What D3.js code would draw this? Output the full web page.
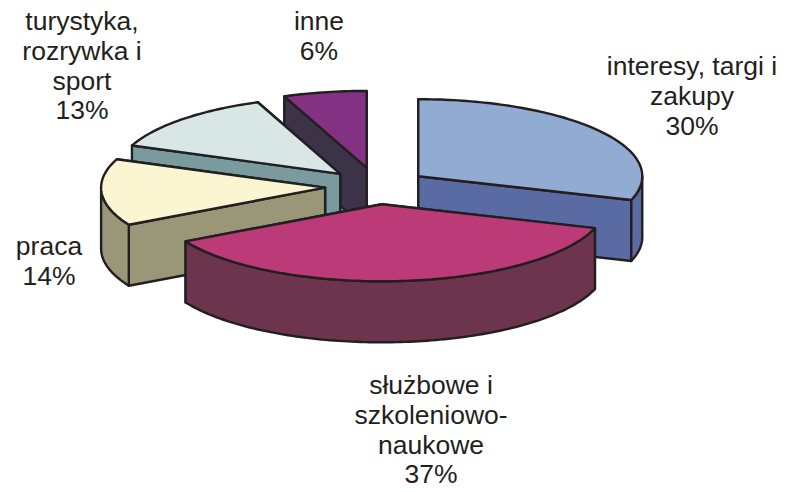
<!DOCTYPE html>
<html>
<head>
<meta charset="utf-8">
<script src="https://cdn.jsdelivr.net/npm/d3@7/dist/d3.min.js"></script>
<style>html,body{margin:0;padding:0;background:#fff}svg{display:block}</style>
</head>
<body>
<svg id="chart" width="785" height="492"></svg>
<script>
const categories = ["interesy, targi i zakupy", "służbowe i szkoleniowo-naukowe", "praca", "turystyka, rozrywka i sport", "inne"];
const shares = [30, 37, 14, 13, 6];
const labelLines = [
  ["interesy, targi i", "zakupy", "30%"],
  ["służbowe i", "szkoleniowo-", "naukowe", "37%"],
  ["praca", "14%"],
  ["turystyka,", "rozrywka i", "sport", "13%"],
  ["inne", "6%"]
];
const explosion = [51, 52, 52, 52, 55];
const topColors = ["#92ABD2", "#BC3A77", "#FBF5D2", "#D9E6E6", "#833182"];
const sideColors = ["#5A6AA3", "#6C344D", "#9A9678", "#799B9E", "#3D3349"];
const labelAnchors = [[692, 75], [431, 394], [49, 255], [82, 30], [319, 30]];
const drawOrder = [4, 3, 2, 0, 1];

const cx = 377, cy = 186.5, rx = 224, ry = 77, depth = 61, tilt = ry / rx;
const ink = "#231f20";
const svg = d3.select("#chart");
const arcs = d3.pie().sort(null).value(d => d)(shares);
const line = d3.line().curve(d3.curveLinear);

function sliceOrigin(i) {
  const mid = (arcs[i].startAngle + arcs[i].endAngle) / 2;
  return [cx + explosion[i] * Math.sin(mid), cy - explosion[i] * tilt * Math.cos(mid)];
}
function rimPoint(o, a) { return [o[0] + rx * Math.sin(a), o[1] - ry * Math.cos(a)]; }
function rimPoints(o, a0, a1) {
  const n = Math.max(2, Math.ceil((a1 - a0) / 0.02));
  return d3.range(n + 1).map(k => rimPoint(o, a0 + (a1 - a0) * k / n));
}
const drop = p => [p[0], p[1] + depth];

const chart = svg.append("g").attr("stroke", ink).attr("stroke-width", 2.4).attr("stroke-linejoin", "round");

drawOrder.forEach(i => {
  const d = arcs[i], o = sliceOrigin(i);
  const g = chart.append("g").attr("class", "slice").attr("data-name", categories[i]);
  const faces = [d.startAngle, d.endAngle]
    .map(a => ({ p: rimPoint(o, a) }))
    .sort((u, v) => u.p[1] - v.p[1]);
  faces.forEach(f => {
    g.append("path").attr("fill", sideColors[i])
      .attr("d", line([o, f.p, drop(f.p), drop(o)]) + "Z");
  });
  const a0 = Math.max(d.startAngle, Math.PI / 2), a1 = Math.min(d.endAngle, 3 * Math.PI / 2);
  if (a1 > a0) {
    const rim = rimPoints(o, a0, a1);
    g.append("path").attr("fill", sideColors[i])
      .attr("d", line(rim.concat(rim.slice().reverse().map(drop))) + "Z");
  }
  g.append("path").attr("fill", topColors[i])
    .attr("d", line([o].concat(rimPoints(o, d.startAngle, d.endAngle))) + "Z");
});

const labels = svg.append("g")
  .attr("font-family", "'Liberation Sans', Arial, sans-serif")
  .attr("font-size", 26.5).attr("fill", ink).attr("text-anchor", "middle");
labelLines.forEach((lines, i) => {
  lines.forEach((t, k) => {
    labels.append("text")
      .attr("x", labelAnchors[i][0])
      .attr("y", labelAnchors[i][1] + k * 29.8)
      .text(t);
  });
});
</script>
</body>
</html>
